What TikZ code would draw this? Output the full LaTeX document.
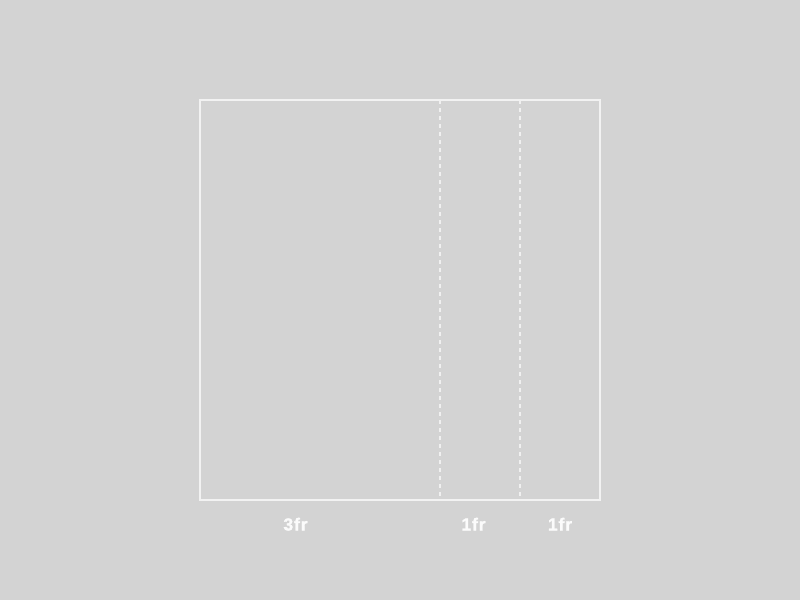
\documentclass[tikz,border=0pt]{standalone}
\usepackage{fontspec}
\setmainfont{Liberation Sans}
\newfontfamily\lblfont[LetterSpace=5,FakeBold=1.5]{Liberation Sans Bold}
\begin{document}
\begin{tikzpicture}[x=1pt,y=1pt,
  frame/.style={draw=white!90!gray, line width=1.5pt},
  divider/.style={draw=white!88!gray, line width=1.5pt, dash pattern=on 4pt off 4pt},
  lbl/.style={text=white!97!gray, font=\lblfont\fontsize{17.5}{20}\selectfont, inner sep=0pt, anchor=base}]
\fill[fill={rgb,255:red,211;green,211;blue,211}] (0,0) rectangle (800,600);
\useasboundingbox (0,0) rectangle (800,600);
\coordinate (t1) at (440,500);
\coordinate (b1) at (440,100);
\coordinate (t2) at (520,500);
\coordinate (b2) at (520,100);
\draw[divider] (t1) -- (b1);
\draw[divider] (t2) -- (b2);
\draw[frame] (200,100) rectangle (600,500);
\node[lbl] (l1) at (295.5,69.5) {3fr};
\node[lbl] (l2) at (473.5,69.5) {1fr};
\node[lbl] (l3) at (560,69.5) {1fr};
\end{tikzpicture}
\end{document}
